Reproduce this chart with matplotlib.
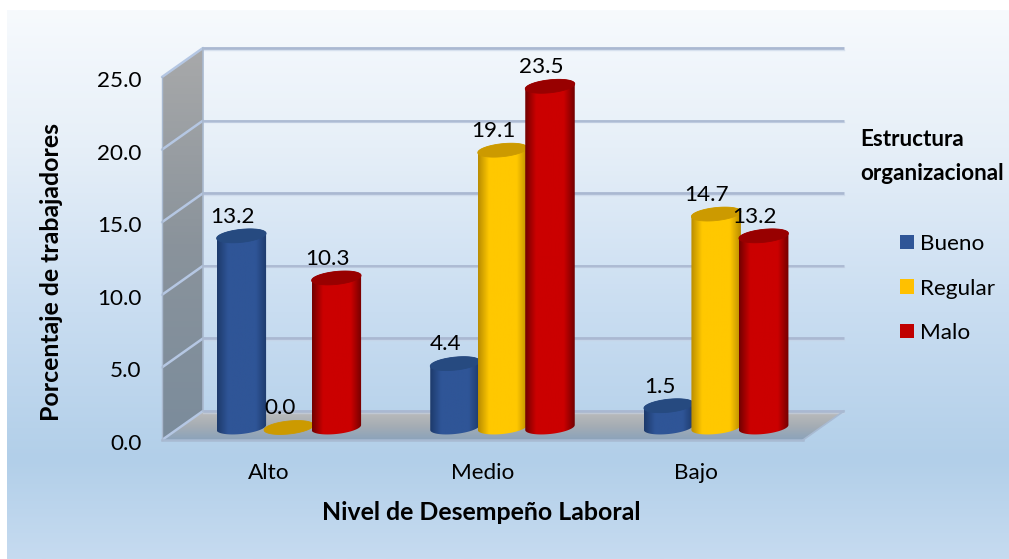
import numpy as np
import matplotlib
matplotlib.use("Agg")
import matplotlib.pyplot as plt
from matplotlib.colors import LinearSegmentedColormap
from matplotlib.patches import PathPatch, Patch
from matplotlib.path import Path
from matplotlib.transforms import ScaledTranslation

plt.rcParams['font.family'] = ['Lato', 'DejaVu Sans']

categories = ["Alto", "Medio", "Bajo"]
series_names = ["Bueno", "Regular", "Malo"]
bueno = [13.2, 4.4, 1.5]
regular = [0.0, 19.1, 14.7]
malo = [10.3, 23.5, 13.2]
y_ticks = [0, 5, 10, 15, 20, 25]

W, H = 1009, 559
DPI = 100
FRONT_L, FRONT_R, FRONT_T, FRONT_B = 162, 803, 77, 440
BACK_DX, BACK_DY = 41, 29      # depth of the box, px
MID_DX, MID_DY = 20, 12.5      # plane the cylinders stand on, px
BAR_STEP, BAR_W = 47.5, 49.5   # px
CAP_B, CAP_SHEAR = 6.5, 0.10   # cylinder cap half-height (px) and tilt
TICK_FS, TITLE_FS, LEGEND_TITLE_FS = 16.2, 17.9, 16.2

fig = plt.figure(figsize=(W / DPI, H / DPI), dpi=DPI, facecolor="white")


def to_fig(l, t, r, b):
    return [l / W, 1 - b / H, (r - l) / W, (b - t) / H]


# Panel background
bg = fig.add_axes(to_fig(7, 10, W, H), zorder=0)
bg.axis("off")
bg_cmap = LinearSegmentedColormap.from_list(
    "panel",
    [(0, "#f7fafd"), (0.25, "#e6eff8"), (0.55, "#c9ddf1"),
     (0.82, "#b2cfe9"), (1, "#c6dbf0")])
bg.imshow(np.linspace(0, 1, 256)[:, None], aspect="auto", cmap=bg_cmap,
          extent=(0, 1, 0, 1), origin="upper")

ax = fig.add_axes(to_fig(FRONT_L, FRONT_T, FRONT_R, FRONT_B), zorder=1)
ax.patch.set_alpha(0)
xlim, ylim = (-0.5, 2.5), (0, 25)
ax.set_xlim(xlim)
ax.set_ylim(ylim)

sx = (FRONT_R - FRONT_L) / 3.0      # px per category
sy = (FRONT_B - FRONT_T) / 25.0     # px per percentage point


def nudge(dx_px, dy_px):
    return ScaledTranslation(dx_px / DPI, dy_px / DPI, fig.dpi_scale_trans)


back = ax.transData + nudge(BACK_DX, BACK_DY)
mid = ax.transData + nudge(MID_DX, MID_DY)
front = ax.transData


def shaded(verts, cmap, trans, extent, gradient, z):
    """Gradient fill clipped to a polygon given in data coordinates."""
    patch = PathPatch(Path(verts + [verts[0]]), fc="none", ec="none", transform=trans,
                      zorder=z, clip_on=False)
    ax.add_patch(patch)
    im = ax.imshow(gradient, aspect="auto", cmap=cmap, extent=extent,
                   origin="upper", transform=trans, zorder=z)
    im.set_clip_box(fig.bbox)
    im.set_clip_path(patch)
    return im


# Left side wall
wall_cmap = LinearSegmentedColormap.from_list("wall", ["#a8a9aa", "#8a939b", "#7b8c9b"])
x0 = xlim[0]
x_back = x0 + BACK_DX / sx
y_back = BACK_DY / sy
wall = [(x0, 0), (x0, 25), (x_back, 25 + y_back), (x_back, y_back)]
shaded(wall, wall_cmap, front, (x0, x_back, 0, 25 + y_back),
       np.linspace(0, 1, 128)[:, None], 2)

# Floor
floor_cmap = LinearSegmentedColormap.from_list("floor", ["#bcbcbc", "#a6adb4", "#8ba3bb"])
x1 = xlim[1]
floor = [(x0, 0), (x1, 0), (x1 + BACK_DX / sx, y_back), (x_back, y_back)]
shaded(floor, floor_cmap, front, (x0, x1 + BACK_DX / sx, 0, y_back),
       np.linspace(0, 1, 64)[:, None], 2)

# Gridlines on the back wall, with a soft shadow below each one
for v in y_ticks:
    ax.plot([xlim[0], xlim[1]], [v, v], transform=back, color="#aab8d1", lw=2.0,
            solid_capstyle="butt", clip_on=False, zorder=3)
    ax.plot([xlim[0], xlim[1]], [v - 1.6 / sy, v - 1.6 / sy], transform=back,
            color="#c6d3e6", lw=1.0, clip_on=False, zorder=3, alpha=0.6)
    ax.plot([x0, x_back], [v, v + y_back], transform=front, color="#b5c7e3", lw=1.8,
            solid_capstyle="round", clip_on=False, zorder=3)

# Box edges
ax.plot([x_back, x_back], [y_back, 25 + y_back], transform=front, color="#a9b9cf", lw=1.2,
        clip_on=False, zorder=3)
ax.plot([x0, x1], [0, 0], transform=front, color="#a8bad2", lw=1.8, clip_on=False, zorder=3)
ax.plot([x1, x1 + BACK_DX / sx], [0, y_back], transform=front, color="#a8bad2", lw=1.2,
        clip_on=False, zorder=3)
ax.plot([x0, x0], [0, 25], transform=front, color="#a9b9cf", lw=1.0, clip_on=False, zorder=3)

# Cylinders
palette = {
    "Bueno": ("#1d3a6b", "#2f5597", "#264a80"),
    "Regular": ("#b98c00", "#ffc800", "#cc9a00"),
    "Malo": ("#720000", "#cb0000", "#980000"),
}
legend_colors = {"Bueno": "#2f5597", "Regular": "#ffc000", "Malo": "#c00000"}
values = {"Bueno": bueno, "Regular": regular, "Malo": malo}


def cap_points(xc, v, upper, n=40):
    """Points along the tilted elliptical rim of a cylinder, left to right."""
    t = np.linspace(np.pi, 0, n) if upper else np.linspace(np.pi, 2 * np.pi, n)
    dx = (BAR_W / 2) * np.cos(t)
    dy = CAP_B * np.sin(t) + CAP_SHEAR * dx
    return xc + dx / sx, v + dy / sy


def cylinder(xc, v, name, z):
    edge, centre, top = palette[name]
    if v > 0:
        cmap = LinearSegmentedColormap.from_list(
            name, [(0, edge), (0.22, centre), (0.5, centre), (0.78, centre), (1, edge)])
        bx, by = cap_points(xc, 0, False)
        tx, ty = cap_points(xc, v, True)
        verts = list(zip(bx, by)) + list(zip(tx[::-1], ty[::-1]))
        half = BAR_W / 2 / sx
        shaded(verts, cmap, mid,
               (xc - half, xc + half, -CAP_B * 2 / sy, v + 2 * CAP_B / sy),
               np.linspace(0, 1, 128)[None, :], z)
    ux, uy = cap_points(xc, v, True)
    lx, ly = cap_points(xc, v, False)
    rim = list(zip(ux, uy)) + list(zip(lx[::-1], ly[::-1]))
    ax.add_patch(PathPatch(Path(rim + [rim[0]]), fc=top, ec=top, lw=0.6, transform=mid,
                           zorder=z + 0.1, clip_on=False))


for g in range(len(categories)):
    for s, name in enumerate(series_names):
        cylinder(g + (s - 1) * BAR_STEP / sx, values[name][g], name, 5 + s * 0.5)

# Value labels
for g in range(len(categories)):
    for s, name in enumerate(series_names):
        xc = g + (s - 1) * BAR_STEP / sx
        v = values[name][g]
        ax.annotate(f"{v:.1f}", (xc, v), xycoords=mid, xytext=(-6.6, 13.8),
                    textcoords="offset points", ha="center", va="center",
                    fontsize=TICK_FS, color="black", zorder=10, annotation_clip=False)

ax.set_xlim(xlim)
ax.set_ylim(ylim)

# Axes furniture
for spine in ax.spines.values():
    spine.set_visible(False)
ax.set_xticks(range(len(categories)), categories)
ax.set_yticks(y_ticks, [f"{v:.1f}" for v in y_ticks])
ax.tick_params(length=0, labelsize=TICK_FS, colors="black")
ax.tick_params(axis="x", pad=16.6)
ax.tick_params(axis="y", pad=14.6)
for lbl in ax.get_yticklabels():
    lbl.set_transform(lbl.get_transform() + nudge(0, -2))
ax.set_xlabel("Nivel de Desempeño Laboral", fontsize=TITLE_FS, fontweight="bold")
ax.set_ylabel("Porcentaje de trabajadores", fontsize=TITLE_FS, fontweight="bold")
ax.xaxis.set_label_coords((481 - FRONT_L) / (FRONT_R - FRONT_L), -(513 - FRONT_B) / (FRONT_B - FRONT_T),
                          transform=ax.transAxes)
ax.xaxis.label.set_va("center")
ax.yaxis.set_label_coords(-(FRONT_L - 52) / (FRONT_R - FRONT_L), (FRONT_B - 272) / (FRONT_B - FRONT_T),
                          transform=ax.transAxes)
ax.yaxis.label.set_va("center")

# Legend
fig.text(860 / W, 1 - 140 / H, "Estructura", fontsize=LEGEND_TITLE_FS, fontweight="bold", va="center", ha="left")
fig.text(860 / W, 1 - 174 / H, "organizacional", fontsize=LEGEND_TITLE_FS, fontweight="bold", va="center", ha="left")
handles = [Patch(fc=legend_colors[n], ec="none", label=n) for n in series_names]
fig.legend(handles=handles, loc="upper left", bbox_to_anchor=(900 / W, 1 - 234 / H),
           frameon=False, fontsize=TICK_FS, handlelength=0.62, handleheight=0.62,
           handletextpad=0.25, labelspacing=1.09, borderpad=0, borderaxespad=0)

fig.savefig("out.png", dpi=DPI)
